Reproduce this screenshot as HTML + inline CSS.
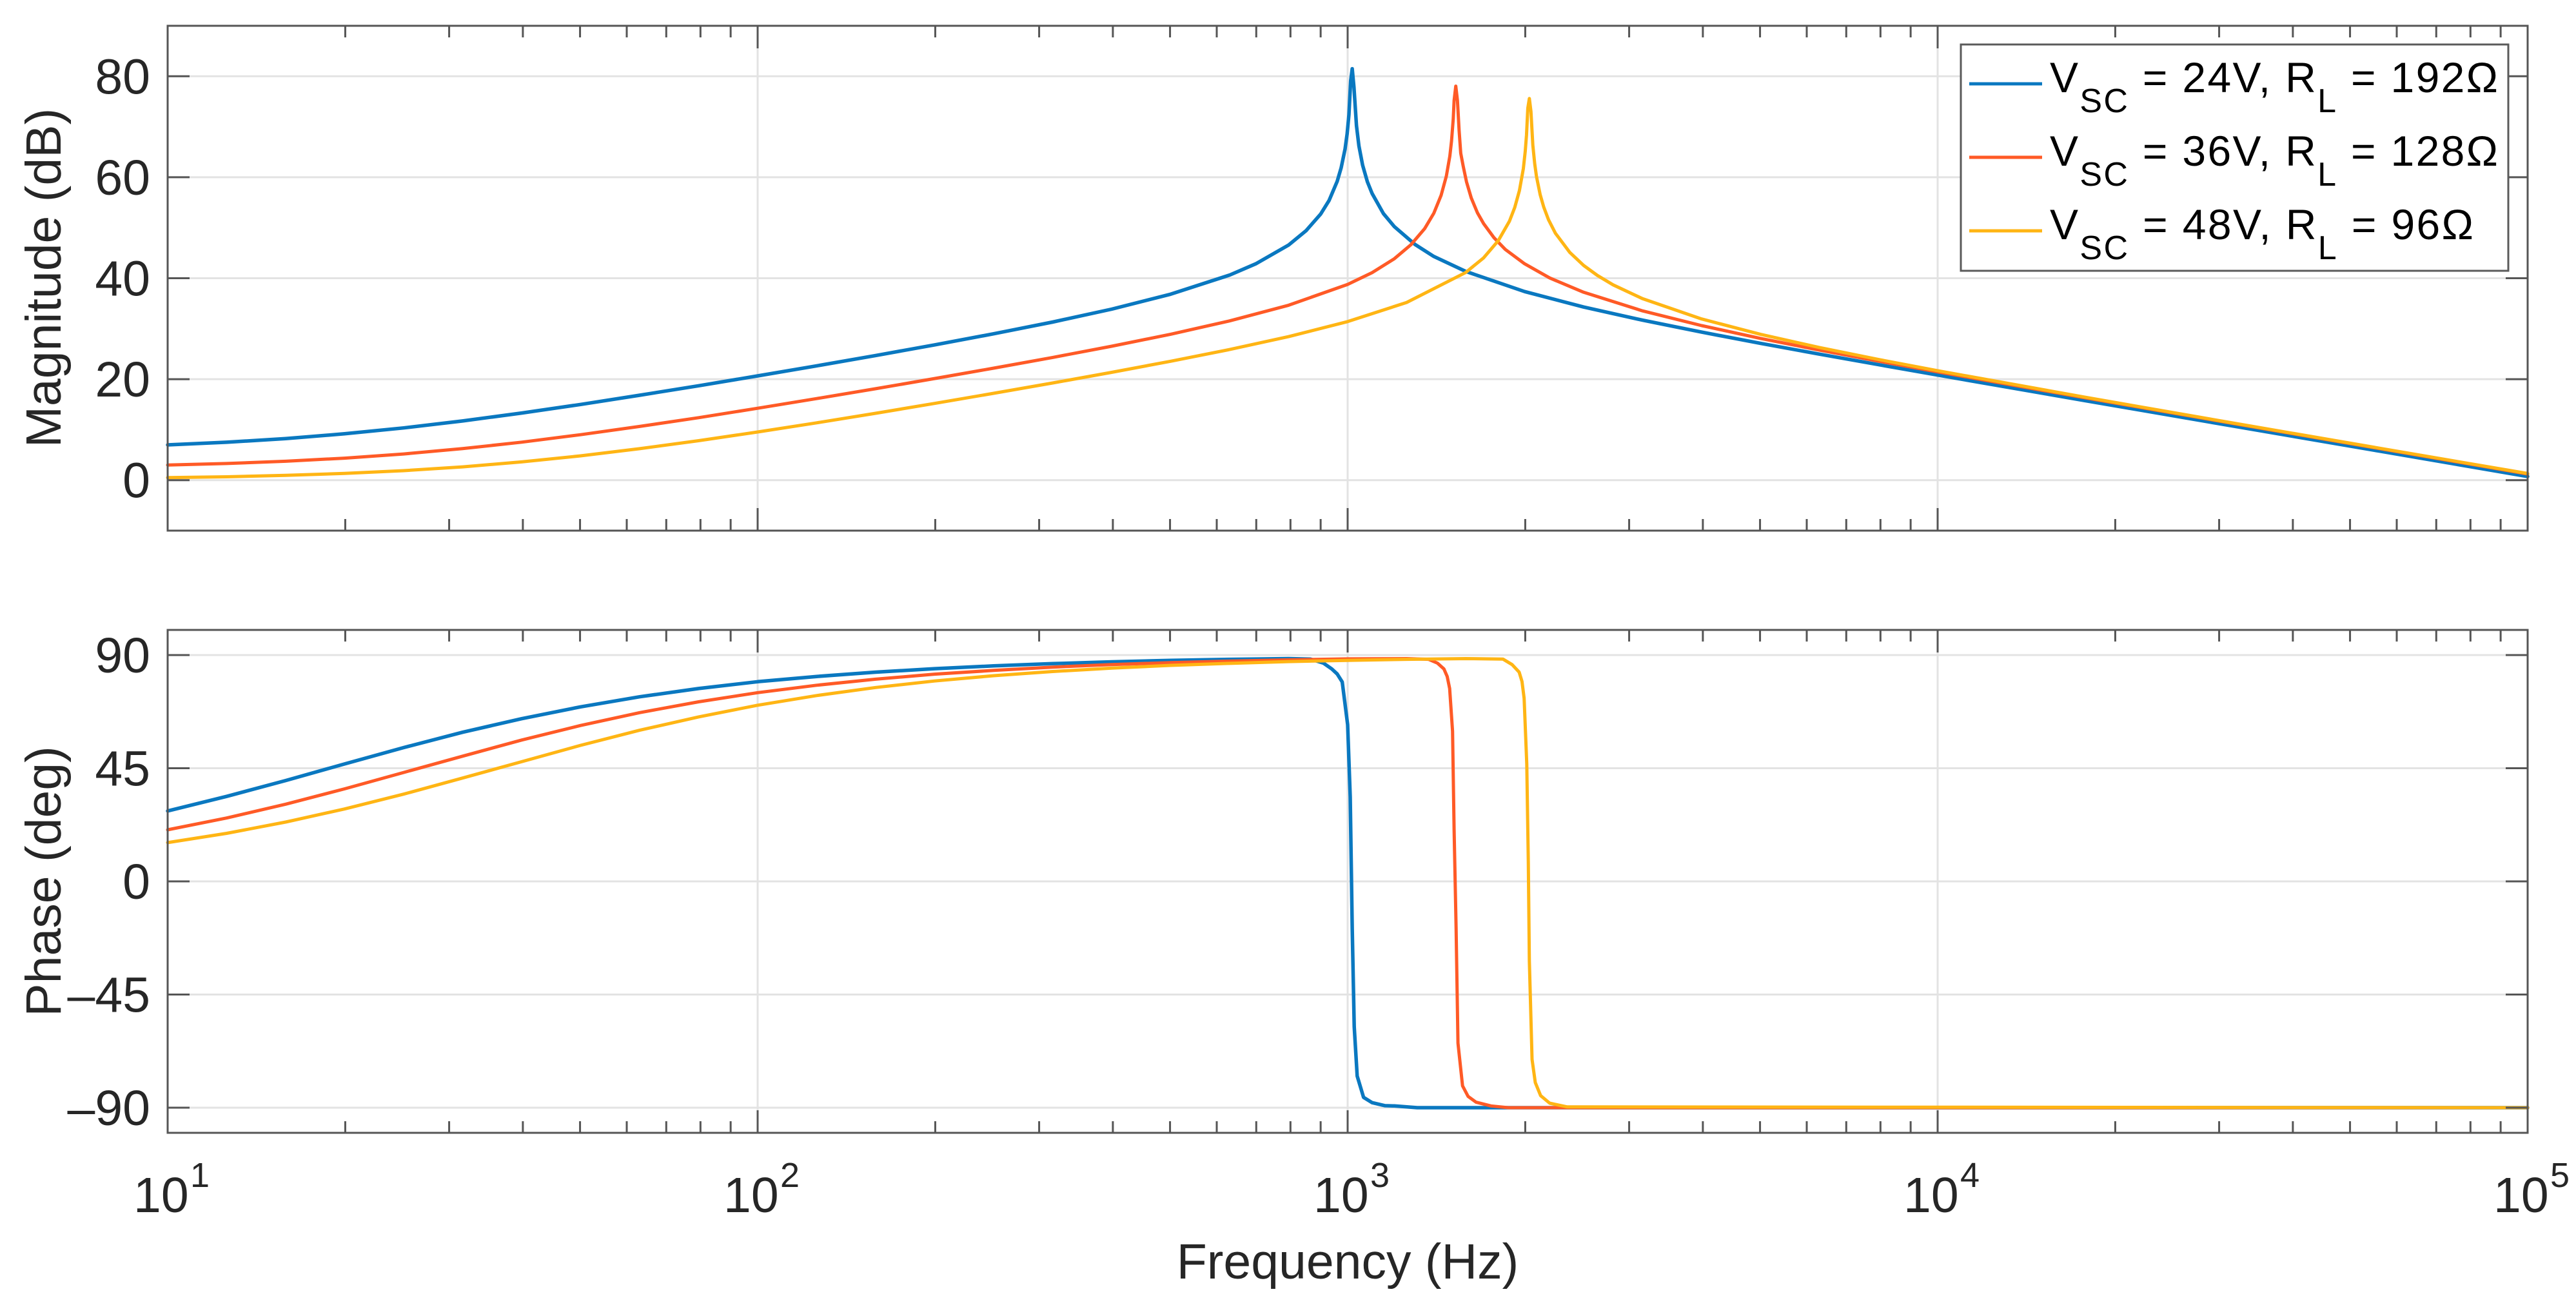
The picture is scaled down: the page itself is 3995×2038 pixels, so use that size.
<!DOCTYPE html>
<html><head><meta charset="utf-8"><style>
html,body{margin:0;padding:0;background:#fff;}
svg{display:block;font-family:"Liberation Sans",Arial,sans-serif;}
</style></head><body>
<svg id="chart" width="3995" height="2038" viewBox="0 0 3995 2038" xmlns="http://www.w3.org/2000/svg">
<rect x="0" y="0" width="3995" height="2038" fill="#fff"/>
<g id="grid"></g>
<g id="series"></g>
<g id="axes"></g>
<text x="2090" y="1983" font-size="77" text-anchor="middle" fill="#262626">Frequency (Hz)</text>
<text transform="translate(94,431) rotate(-90)" font-size="77" text-anchor="middle" fill="#262626">Magnitude (dB)</text>
<text transform="translate(94,1367) rotate(-90)" font-size="77" text-anchor="middle" fill="#262626">Phase (deg)</text>
<g>
<rect x="3041" y="69" width="849" height="351" fill="#fff" stroke="#5a5a5a" stroke-width="3"/>
<g>
<line x1="3054" y1="130" x2="3167" y2="130" stroke="#0a78c0" stroke-width="5"/>
<text x="3179" y="143" font-size="66" fill="#000" textLength="695">V<tspan font-size="52" dy="31">SC</tspan><tspan dy="-31"> = 24V, R</tspan><tspan font-size="52" dy="31">L</tspan><tspan dy="-31"> = 192Ω</tspan></text>
</g>
<g>
<line x1="3054" y1="244" x2="3167" y2="244" stroke="#ff5a26" stroke-width="5"/>
<text x="3179" y="257" font-size="66" fill="#000" textLength="695">V<tspan font-size="52" dy="31">SC</tspan><tspan dy="-31"> = 36V, R</tspan><tspan font-size="52" dy="31">L</tspan><tspan dy="-31"> = 128Ω</tspan></text>
</g>
<g>
<line x1="3054" y1="358" x2="3167" y2="358" stroke="#ffb514" stroke-width="5"/>
<text x="3179" y="371" font-size="66" fill="#000" textLength="657">V<tspan font-size="52" dy="31">SC</tspan><tspan dy="-31"> = 48V, R</tspan><tspan font-size="52" dy="31">L</tspan><tspan dy="-31"> = 96Ω</tspan></text>
</g>
</g>
</svg>
<script>
const lowF = [10,12.59,15.85,19.95,25.12,31.62,39.81,50.12,63.1,79.43,100,125.9,158.5,199.5,251.2,316.2,398.1,501.2,631,794.3];
const blueMagF = lowF.concat([900,960,990,1005,1012,1018,1025,1035,1060,1100,1200,1400,1585,1995,2512,3162,3981,5012,6310,7943,10000,17783,31623,56234,100000], [700,850,930,975,998,1045,1080,1150,1300]);
const blueMag = [6.98,7.51,8.23,9.18,10.35,11.73,13.29,15.0,16.82,18.7,20.65,22.64,24.69,26.79,28.99,31.31,33.87,36.83,40.63,46.58,52.7,59.2,65.6,72.4,79.1,81.5,77.8,70.2,62.4,56.8,50.2,44.3,41.35,37.35,34.29,31.68,29.32,27.09,24.96,22.87,20.82,15.75,10.73,5.73,0.73, 42.9,49.4,55.4,61.85,68.6,66.2,59.1,52.8,46.7];
const orangeMagF = lowF.concat([1000,1200,1350,1440,1490,1510,1515,1525,1535,1545,1570,1620,1700,1850,1995,2512,3162,3981,5012,6310,7943,10000,17783,31623,56234,100000], [1100,1280,1400,1470,1500,1555,1590,1660,1770,2200]);
const orangeMag = [3.0,3.3,3.74,4.36,5.18,6.24,7.52,9.0,10.64,12.38,14.24,16.15,18.11,20.13,22.19,24.31,26.53,28.9,31.54,34.65,38.78,43.87,49.8,56.4,64.2,71.6,75.2,78.05,75.2,69.2,62.2,55.9,50.8,45.7,42.86,37.22,33.53,30.61,28.07,25.75,23.56,21.44,16.29,11.25,6.23,1.23, 41.1,46.63,52.88,60.24,67.17,64.75,59.1,52.93,48.03,40.05];
const yellowMagF = lowF.concat([1000,1259,1585,1800,1920,1985,2010,2020,2032,2045,2060,2090,2150,2250,2512,2818,3162,3981,5012,6310,7943,10000,17783,31623,56234,100000], [1700,1880,1955,2000,2075,2120,2190,2380,2650]);
const yellowMag = [0.5,0.67,0.94,1.33,1.88,2.63,3.61,4.81,6.23,7.82,9.54,11.36,13.25,15.2,17.2,19.25,21.36,23.55,25.88,28.43,31.4,35.2,41.12,47.43,54.03,61.73,68.38,73.66,75.6,73.0,66.36,60.11,54.06,48.91,42.53,38.68,35.94,31.93,28.87,26.26,23.89,21.67,16.42,11.33,6.31,1.31, 44.04,51.29,57.36,65.11,62.68,56.54,51.6,45.09,40.55];
const bluePhF = lowF.concat([865,940,979,1000,1010,1018,1026,1038,1064,1157,1312,100000], [910,960,1100,1200]);
const bluePh = [28.0,33.8,40.1,46.7,53.2,59.3,64.7,69.4,73.4,76.7,79.4,81.5,83.2,84.6,85.7,86.6,87.3,87.9,88.3,88.6,88.4,84.5,79.3,62.3,33.6,-18.6,-57.8,-77.4,-85.9,-89.2,-90,-90, 86.8,82.5,-88.0,-89.3];
const orangePhF = lowF.concat([1000,1259,1371,1456,1489,1506,1515,1527,1538,1566,1650,1871,100000], [1420,1475,1600,1750]);
const orangePh = [20.5,25.2,30.7,36.8,43.3,49.8,56.2,62.0,67.1,71.4,75.05,78.0,80.4,82.4,83.9,85.2,86.2,87.0,87.6,88.1,88.5,88.6,88.3,84.5,76.7,59.7,20.6,-18.6,-64.3,-81.3,-87.8,-90,-90, 86.8,81.5,-85.5,-89.3];
const yellowPhF = lowF.concat([1000,1259,1585,1833,1953,1991,2012,2024,2032,2054,2124,2356,100000], [1900,1975,2080,2200]);
const yellowPh = [15.4,19.1,23.6,28.8,34.7,41.1,47.6,54.1,60.1,65.4,70.05,73.9,77.1,79.7,81.8,83.45,84.8,85.9,86.7,87.4,87.9,88.3,88.6,88.4,83.2,72.8,46.7,7.5,-31.7,-70.8,-85.2,-89.7,-90, 86.2,79.5,-80.0,-88.2];
const magTicks = [0,20,40,60,80];
const phaseTicks = [-90,-45,0,45,90];
const phaseTickLabels = ["\u201390","\u201345","0","45","90"];
const decades = [1,2,3,4,5];

const NS = "http://www.w3.org/2000/svg";
const L = 260, R = 3920, MT = 40, MB = 823, PT = 977, PB = 1757;
function xs(f){ return L + (Math.log10(f) - 1) * (R - L) / 4; }
function yM(v){ return MB - (v + 10) * (MB - MT) / 100; }
function yP(v){ return PB - (v + 100) * (PB - PT) / 200; }
function mk(tag, attrs, parent){ const e = document.createElementNS(NS, tag); for (const k in attrs) e.setAttribute(k, attrs[k]); parent.appendChild(e); return e; }
const grid = document.getElementById('grid'), ser = document.getElementById('series'), ax = document.getElementById('axes');

[[MT,MB],[PT,PB]].forEach(function(p){
  decades.forEach(function(d){
    const x = xs(Math.pow(10,d));
    const g = mk('line',{x1:x,y1:p[0],x2:x,y2:p[1],stroke:'#e3e3e3','stroke-width':3},grid);
    
    
  });
});
magTicks.forEach(function(v){
  const g = mk('line',{x1:L,y1:yM(v),x2:R,y2:yM(v),stroke:'#e3e3e3','stroke-width':3},grid);
  
  
});
phaseTicks.forEach(function(v){
  const g = mk('line',{x1:L,y1:yP(v),x2:R,y2:yP(v),stroke:'#e3e3e3','stroke-width':3},grid);
  
  
});

function line(fs, vs, yf, color, w, name){
  const idx = fs.map(function(_, i){ return i; }).sort(function(a, b){ return fs[a] - fs[b]; });
  let d = '';
  idx.forEach(function(i, k){ d += (k ? 'L' : 'M') + xs(fs[i]).toFixed(1) + ' ' + yf(vs[i]).toFixed(1); });
  const p = mk('path',{d:d,fill:'none',stroke:color,'stroke-width':w,'stroke-linejoin':'round','stroke-linecap':'round'},ser);
  
  
}
line(blueMagF, blueMag, yM, '#0a78c0', 5.5, 'magnitude-line-24v');
line(orangeMagF, orangeMag, yM, '#ff5a26', 5, 'magnitude-line-36v');
line(yellowMagF, yellowMag, yM, '#ffb514', 5, 'magnitude-line-48v');
line(bluePhF, bluePh, yP, '#0a78c0', 5.5, 'phase-line-24v');
line(orangePhF, orangePh, yP, '#ff5a26', 5, 'phase-line-36v');
line(yellowPhF, yellowPh, yP, '#ffb514', 5, 'phase-line-48v');

[[MT,MB],[PT,PB]].forEach(function(p, idx){
  const b = mk('rect',{x:L,y:p[0],width:R-L,height:p[1]-p[0],fill:'none',stroke:'#555','stroke-width':3},ax);
  
  
  for (let d = 1; d <= 5; d++){
    for (let m = 1; m <= 9; m++){
      if (d === 5 && m > 1) break;
      const x = xs(m * Math.pow(10,d));
      const len = m === 1 ? 35 : 18;
      const t1 = mk('line',{x1:x,y1:p[1],x2:x,y2:p[1]-len,stroke:'#555','stroke-width':3},ax);
      
      
      const t2 = mk('line',{x1:x,y1:p[0],x2:x,y2:p[0]+len,stroke:'#555','stroke-width':3},ax);
      
      
    }
  }
});
magTicks.forEach(function(v){
  const y = yM(v);
  const a = mk('line',{x1:L,y1:y,x2:L+34,y2:y,stroke:'#555','stroke-width':3},ax);
  
  
  const b = mk('line',{x1:R,y1:y,x2:R-34,y2:y,stroke:'#555','stroke-width':3},ax);
  
  
  const t = mk('text',{x:233,y:y+27,'font-size':77,'text-anchor':'end',fill:'#262626'},ax);
  t.textContent = String(v);
  
  
});
phaseTicks.forEach(function(v, i){
  const y = yP(v);
  const a = mk('line',{x1:L,y1:y,x2:L+34,y2:y,stroke:'#555','stroke-width':3},ax);
  
  
  const b = mk('line',{x1:R,y1:y,x2:R-34,y2:y,stroke:'#555','stroke-width':3},ax);
  
  
  const t = mk('text',{x:233,y:y+27,'font-size':77,'text-anchor':'end',fill:'#262626'},ax);
  t.textContent = phaseTickLabels[i];
  
  
});
decades.forEach(function(d){
  const x = xs(Math.pow(10,d));
  const t = mk('text',{x:x-53,y:1880,'font-size':77,fill:'#262626'},ax);
  t.textContent = '10';
  
  
  const s = mk('text',{x:x+35,y:1841,'font-size':54,fill:'#262626'},ax);
  s.textContent = String(d);
  
  
});
</script>
</body></html>
